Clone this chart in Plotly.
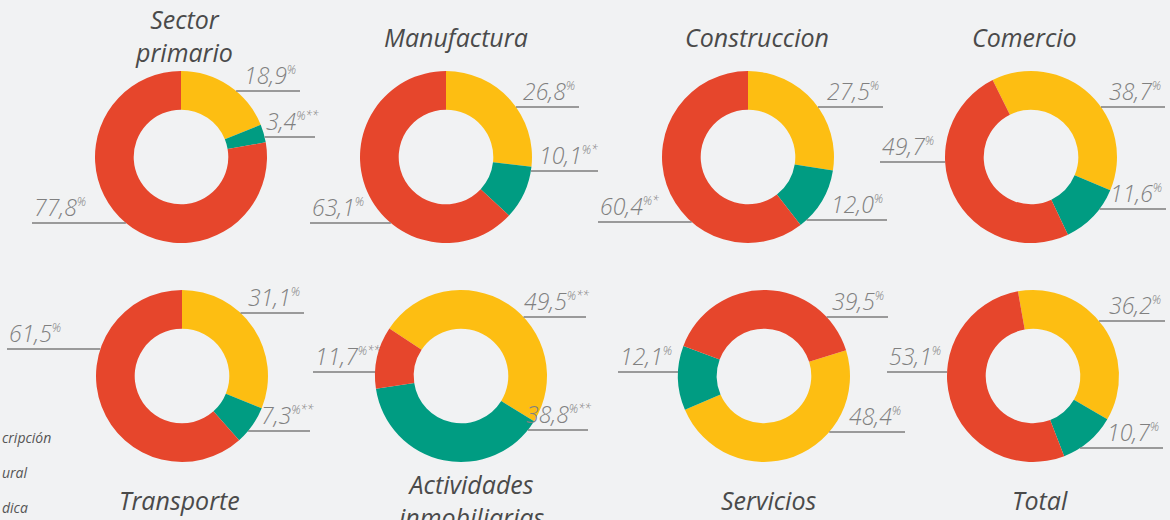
import math
import plotly.graph_objects as go

# datos por sector (porcentajes)
sectores = ["Sector primario", "Manufactura", "Construccion", "Comercio",
            "Transporte", "Actividades inmobiliarias", "Servicios", "Total"]
categorias = ["Persona natural", "Persona jurídica", "Sin inscripción"]
natural = [18.9, 26.8, 27.5, 38.7, 31.1, 49.5, 48.4, 36.2]
juridica = [3.4, 10.1, 12.0, 11.6, 7.3, 38.8, 12.1, 10.7]
sin_inscripcion = [77.8, 63.1, 60.4, 49.7, 61.5, 11.7, 39.5, 53.1]
nota_natural = ["", "", "", "", "", "**", "", ""]
nota_juridica = ["**", "*", "", "", "**", "**", "", ""]
nota_sin = ["", "", "*", "", "", "**", "", ""]
leyenda = ["cripción", "ural", "dica"]

colores = ["#FDBE12", "#009C82", "#E6462C"]

W, H = 1170, 520
R = 86
centros = [(181, 157), (446, 157), (748, 157), (1031, 157),
           (182, 376), (461, 376), (764, 376), (1033, 376)]
rotaciones = [0, 0, 0, -26.5, 0, -56.4, 72.6, -10.1]
titulos_pos = [(184, 36), (456, 37), (757, 37), (1024, 37),
               (179, 500), (471, 500), (768, 500), (1040, 500)]
# (lado, y de la linea, extremo exterior x) para natural, juridica, sin inscripcion
etiquetas_pos = [
    [("r", 91, 300), ("r", 137, 315), ("l", 223, 32)],
    [("r", 107, 579), ("r", 171, 598), ("l", 223, 310)],
    [("r", 107, 883), ("r", 220, 887), ("l", 222, 598)],
    [("r", 107, 1165), ("r", 209, 1166), ("l", 162, 880)],
    [("r", 313, 304), ("r", 431, 310), ("l", 349, 7)],
    [("r", 317, 586), ("r", 430, 588), ("l", 372, 313)],
    [("r", 432, 905), ("l", 372, 618), ("r", 317, 888)],
    [("r", 321, 1165), ("r", 448, 1163), ("l", 372, 887)],
]


def px(x):
    return x / W


def py(y):
    return 1 - y / H


fig = go.Figure()
annotations = []
shapes = []

for i, nombre in enumerate(sectores):
    cx, cy = centros[i]
    fig.add_trace(go.Pie(
        labels=categorias,
        values=[natural[i], juridica[i], sin_inscripcion[i]],
        marker=dict(colors=colores, line=dict(width=0)),
        hole=0.55,
        sort=False,
        direction="clockwise",
        rotation=rotaciones[i],
        textinfo="none",
        hoverinfo="label+percent",
        showlegend=False,
        domain=dict(x=[px(cx - R), px(cx + R)], y=[py(cy + R), py(cy - R)]),
    ))

    vals = [natural[i], juridica[i], sin_inscripcion[i]]
    notas = [nota_natural[i], nota_juridica[i], nota_sin[i]]
    for v, nota, (lado, ly, ox) in zip(vals, notas, etiquetas_pos[i]):
        dx = math.sqrt(max(R ** 2 - (ly - cy) ** 2, 0))
        ix = cx + dx if lado == "r" else cx - dx
        shapes.append(dict(type="line", xref="paper", yref="paper",
                           x0=px(ix), x1=px(ox), y0=py(ly), y1=py(ly),
                           line=dict(color="#7d7d7d", width=1.5)))
        texto = (f"{v:.1f}".replace(".", ",")
                 + "<sup><span style='font-size:12px'>%" + nota + "</span></sup>")
        annotations.append(dict(
            text=texto, xref="paper", yref="paper",
            x=px(ox - 2 if lado == "r" else ox), y=py(ly + 2),
            xanchor="right" if lado == "r" else "left", yanchor="bottom",
            xshift=4 * len(nota) if lado == "r" else 0,
            showarrow=False,
            font=dict(family="Open Sans", size=23, color="#808080",
                      style="italic", weight=300)))

    tx, ty = titulos_pos[i]
    annotations.append(dict(
        text=nombre.replace(" ", "<br>") if " " in nombre else nombre,
        xref="paper", yref="paper", x=px(tx), y=py(ty),
        xanchor="center", yanchor="middle", showarrow=False,
        font=dict(family="Open Sans", size=25, color="#4a4a4a",
                  style="italic", weight=500)))

for k, t in enumerate(leyenda):
    annotations.append(dict(
        text=t, xref="paper", yref="paper", x=0, y=py(437 + 35 * k),
        xanchor="left", yanchor="middle", showarrow=False,
        font=dict(family="Open Sans", size=14, color="#555555", style="italic")))

fig.update_layout(
    width=W, height=H,
    margin=dict(l=0, r=0, t=0, b=0),
    paper_bgcolor="#F1F2F3",
    plot_bgcolor="#F1F2F3",
    annotations=annotations,
    shapes=shapes,
)

fig.write_html("out.html", config={"displayModeBar": False},
               post_script="document.body.style.margin='0';")
